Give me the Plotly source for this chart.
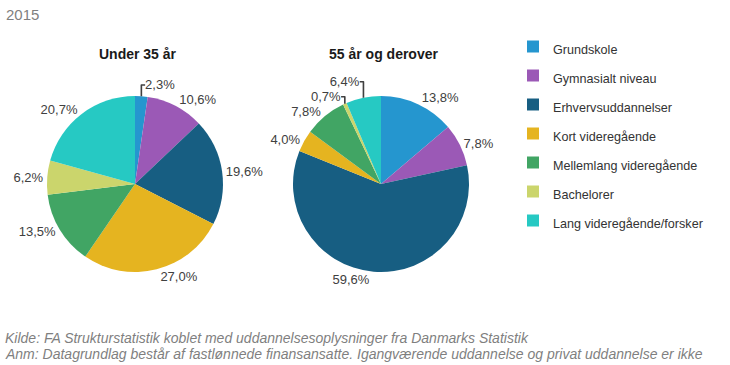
import plotly.graph_objects as go

categories = ["Grundskole", "Gymnasialt niveau", "Erhvervsuddannelser", "Kort videregående",
              "Mellemlang videregående", "Bachelorer", "Lang videregående/forsker"]
under35 = [2.3, 10.6, 19.6, 27.0, 13.5, 6.2, 20.7]
over55 = [13.8, 7.8, 59.6, 4.0, 7.8, 0.7, 6.4]
colors = ["#2596cf", "#9b59b6", "#175e82", "#e5b420", "#41a564", "#cbd56c", "#26c9c3"]
titles = ["Under 35 år", "55 år og derover"]
year = "2015"
footer = ["Kilde: FA Strukturstatistik koblet med uddannelsesoplysninger fra Danmarks Statistik",
          "Anm: Datagrundlag består af fastlønnede finansansatte. Igangværende uddannelse og privat uddannelse er ikke"]

labels = [f"<span style='font-size:12.6px'>{c}</span>" for c in categories]

fig = go.Figure()
common = dict(labels=labels, sort=False, direction="clockwise", rotation=0,
              marker=dict(colors=colors), textposition="outside",
              texttemplate="%{value:.1f}%", textfont=dict(size=13, color="#404040"),
              hoverinfo="label+value")
fig.add_trace(go.Pie(values=under35, domain=dict(x=[47/730, 223/730], y=[93/365, 269/365]), **common))
fig.add_trace(go.Pie(values=over55, domain=dict(x=[293/730, 469/730], y=[93/365, 269/365]), **common))

for t, cx in zip(titles, [138, 383]):
    fig.add_annotation(text="<b>" + t + "</b>", x=cx/730, y=1-54/365, xref="paper", yref="paper",
                       xanchor="center", yanchor="middle",
                       showarrow=False, font=dict(size=14, color="#1a1a1a"))
fig.add_annotation(text=year, x=4/730, y=1-15/365, xref="paper", yref="paper", xanchor="left",
                   yanchor="middle", showarrow=False, font=dict(size=15, color="#7f7f7f"))
for line, cy in zip(footer, [338, 354]):
    fig.add_annotation(text="<i>" + line + "</i>", x=3/730, y=1-cy/365, xref="paper", yref="paper",
                       xanchor="left", yanchor="middle",
                       showarrow=False, font=dict(size=14, color="#7f7f7f"))

fig.update_layout(
    width=730, height=365, margin=dict(l=0, r=0, t=0, b=0),
    paper_bgcolor="white", plot_bgcolor="white",
    separators=",.",
    font=dict(family="Liberation Sans, Arial, sans-serif", color="#404040"),
    legend=dict(x=513/730, y=1-27/365, xanchor="left", yanchor="top",
                font=dict(size=20, color="#333333"), bgcolor="rgba(0,0,0,0)"),
)
fig.write_html("out.html", config={"displayModeBar": False},
               post_script="document.body.style.margin='0';")
